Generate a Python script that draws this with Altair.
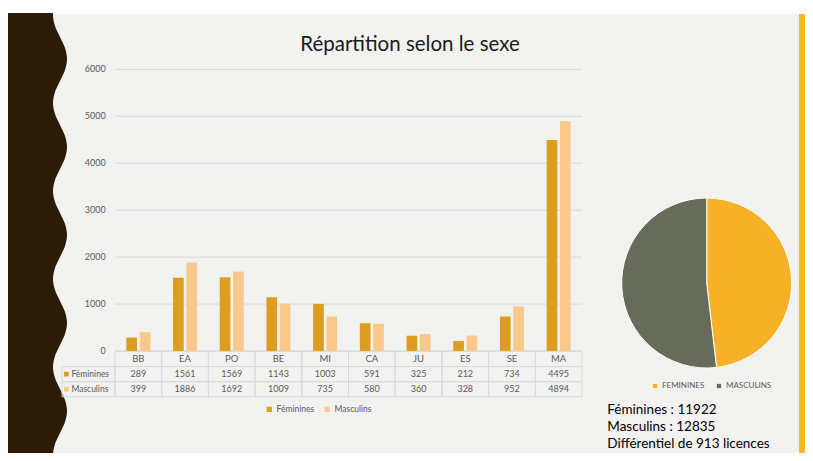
import altair as alt
import pandas as pd

# ---------------- data ----------------
cats = ["BB", "EA", "PO", "BE", "MI", "CA", "JU", "ES", "SE", "MA"]
fem = [289, 1561, 1569, 1143, 1003, 591, 325, 212, 734, 4495]
masc = [399, 1886, 1692, 1009, 735, 580, 360, 328, 952, 4894]
series = ["Féminines", "Masculins"]
y_ticks = [0, 1000, 2000, 3000, 4000, 5000, 6000]
pie_labels = ["FEMININES", "MASCULINS"]
title_text = "Répartition selon le sexe"
header_key = "Catégorie"

# decorative wavy border of the slide (page pixels)
wave_y = [13, 15, 26, 37, 48, 59, 70, 81, 92, 103, 114, 125, 136, 147, 158, 169, 180, 191,
          202, 213, 224, 235, 246, 257, 268, 279, 290, 301, 312, 323, 334, 345, 356, 367,
          378, 389, 400, 411, 422, 433, 444, 455, 461]
wave_x = [53, 53, 55, 60, 65, 67, 65, 60, 55, 53, 55, 60, 65, 67, 65, 60, 55, 53,
          55, 60, 65, 67, 65, 60, 55, 53, 55, 60, 65, 67, 65, 60, 55, 53,
          55, 60, 65, 67, 65, 60, 55, 53, 54]

# ---------------- styling ----------------
O = 8  # page margin


def px(v):
    return v - O


FONT = "Lato"
bar_colors = ["#dc9d21", "#f9c98b"]
pie_colors = ["#f7b228", "#676b5a"]
grey = "#595959"
grid_c = "#d9d9d9"
slide_bg = "#f2f2f0"
brown = "#2b1c05"
orange = "#f8b526"

W, H = 797, 445

# ---------------- tables ----------------
bars_df = pd.DataFrame({
    "cat": cats * 2,
    "sexe": [series[0]] * len(cats) + [series[1]] * len(cats),
    "val": fem + masc,
})
tot_f, tot_m = sum(fem), sum(masc)
pie_df = pd.DataFrame({"lab": pie_labels, "val": [tot_f, tot_m], "ord": [0, 1]})
summary = [f"Féminines : {tot_f}", f"Masculins : {tot_m}",
           f"Différentiel de {tot_m - tot_f} licences"]
sum_df = pd.DataFrame({"i": [0, 1, 2], "txt": summary})

rows = [header_key] + series
cells = []
for i, c in enumerate(cats):
    cells.append({"cat": c, "row": header_key, "txt": c})
    cells.append({"cat": c, "row": series[0], "txt": str(fem[i])})
    cells.append({"cat": c, "row": series[1], "txt": str(masc[i])})
cells_df = pd.DataFrame(cells)
rowlab_df = pd.DataFrame({"row": series})
ticks_df = pd.DataFrame({"v": y_ticks})
wave_df = pd.DataFrame({"wy": [px(v) for v in wave_y], "wx": [px(v) for v in wave_x]})
one = pd.DataFrame({"a": [0]})
title_df = pd.DataFrame({"t": [title_text]})

# ---------------- scales ----------------
yscale = alt.Scale(domain=[0, 6000], range=[px(351), px(69.3)], nice=False, zero=True)
xbars = alt.Scale(domain=cats, range=[px(115), px(582)], paddingInner=0.486, paddingOuter=0.243)
xtab = alt.Scale(domain=cats, range=[px(115), px(582)], paddingInner=0, paddingOuter=0)
rowscale = alt.Scale(domain=rows, range=[px(351.4), px(396.8)], paddingInner=0, paddingOuter=0)
rowscale2 = alt.Scale(domain=rows, range=[px(351.4), px(396.8)], paddingInner=0, paddingOuter=0)
ident_x = alt.Scale(domain=[0, W], range=[0, W], nice=False, zero=False)
ident_y = alt.Scale(domain=[0, H + 16], range=[0, H + 16], nice=False, zero=False)
bar_color_scale = alt.Scale(domain=series, range=bar_colors)

# ---------------- layers ----------------
bg = alt.Chart(one).mark_rect(color=slide_bg).encode(
    x=alt.value(px(10)), x2=alt.value(W), y=alt.value(px(14)), y2=alt.value(H))

wave = alt.Chart(wave_df).mark_area(orient="horizontal", interpolate="monotone", color=brown,
                                    clip=True).encode(
    y=alt.Y("wy:Q", scale=ident_y, axis=None),
    x=alt.X("wx:Q", scale=ident_x, axis=None),
    x2=alt.value(px(10)),
)

orange_bar = alt.Chart(one).mark_rect(color=orange).encode(
    x=alt.value(W - 6), x2=alt.value(W), y=alt.value(px(14)), y2=alt.value(H))

grid = alt.Chart(ticks_df).mark_rule(color=grid_c, strokeWidth=1).encode(
    y=alt.Y("v:Q", scale=yscale, axis=None),
    x=alt.value(px(115)), x2=alt.value(px(582)),
)

ylabels = alt.Chart(ticks_df).mark_text(align="right", baseline="middle", font=FONT,
                                        fontSize=9, color=grey).encode(
    y=alt.Y("v:Q", scale=yscale, axis=None),
    x=alt.value(px(105.7)),
    text=alt.Text("v:Q"),
)

bars = alt.Chart(bars_df).mark_bar().encode(
    x=alt.X("cat:N", scale=xbars, axis=None, sort=cats),
    xOffset=alt.XOffset("sexe:N", scale=alt.Scale(domain=series, paddingInner=0.2)),
    y=alt.Y("val:Q", scale=yscale, axis=None),
    color=alt.Color("sexe:N", scale=bar_color_scale, legend=alt.Legend(
        orient="none", legendX=px(265), legendY=px(405), direction="horizontal", title=None,
        symbolType="square", symbolSize=28, symbolStrokeWidth=0, labelFont=FONT,
        labelFontSize=8.5, labelColor=grey, columnPadding=8, labelOffset=3, padding=0)),
)

table_cells = alt.Chart(cells_df).mark_rect(fill=None, stroke=grid_c, strokeWidth=1).encode(
    x=alt.X("cat:N", scale=xtab, axis=None, sort=cats),
    y=alt.Y("row:N", scale=rowscale, axis=None, sort=rows),
)

table_head = alt.Chart(cells_df).transform_filter(
    alt.datum.row == header_key
).mark_text(font=FONT, fontSize=9.5, color=grey, baseline="middle").encode(
    x=alt.X("cat:N", scale=xtab, axis=None, sort=cats),
    y=alt.Y("row:N", scale=rowscale, axis=None, sort=rows),
    text="txt:N",
)

table_nums = alt.Chart(cells_df).transform_filter(
    alt.datum.row != header_key
).mark_text(font=FONT, fontSize=9, color=grey, baseline="middle").encode(
    x=alt.X("cat:N", scale=xtab, axis=None, sort=cats),
    y=alt.Y("row:N", scale=rowscale, axis=None, sort=rows),
    text="txt:N",
)

label_cells = alt.Chart(rowlab_df).mark_rect(fill=None, stroke=grid_c, strokeWidth=1).encode(
    x=alt.value(px(62)), x2=alt.value(px(115)),
    y=alt.Y("row:N", scale=rowscale2, axis=None, sort=rows),
)

label_sq = alt.Chart(rowlab_df).mark_square(size=22, opacity=1).encode(
    x=alt.value(px(66.4)),
    y=alt.Y("row:N", scale=rowscale2, axis=None, sort=rows),
    color=alt.Color("row:N", scale=bar_color_scale, legend=None),
)

label_txt = alt.Chart(rowlab_df).mark_text(align="left", baseline="middle", font=FONT,
                                          fontSize=8.5, color=grey).encode(
    x=alt.value(px(71.4)),
    y=alt.Y("row:N", scale=rowscale2, axis=None, sort=rows),
    text="row:N",
)

title = alt.Chart(title_df).mark_text(font=FONT, fontSize=20.5, color="#1a1a1a",
                                      align="center", baseline="alphabetic").encode(
    x=alt.value(px(410)), y=alt.value(px(51)), text="t:N")

pie = alt.Chart(pie_df).mark_arc(radius=85, stroke="#ffffff", strokeWidth=1).encode(
    theta=alt.Theta("val:Q", stack=True),
    order=alt.Order("ord:Q"),
    color=alt.Color("lab:N", scale=alt.Scale(domain=pie_labels, range=pie_colors),
                    legend=alt.Legend(orient="none", legendX=px(651), legendY=px(382),
                                      direction="horizontal", title=None, symbolType="square",
                                      symbolSize=18, symbolStrokeWidth=0, labelFont=FONT,
                                      labelFontSize=8, labelColor=grey, columnPadding=10,
                                      labelOffset=3, padding=0)),
    x=alt.value(px(706.7)), y=alt.value(px(283)),
)

summary_txt = alt.Chart(sum_df).mark_text(align="left", baseline="alphabetic", font=FONT,
                                          fontSize=13.5, color="#000000").encode(
    x=alt.value(px(607.3)),
    y=alt.Y("i:O", scale=alt.Scale(domain=[0, 1, 2], range=[px(414), px(448)], padding=0),
            axis=None),
    text="txt:N",
)

chart = alt.layer(
    bg, wave, orange_bar, grid, ylabels, bars, table_cells, table_head, table_nums,
    label_cells, label_sq, label_txt, title, pie, summary_txt,
).resolve_scale(
    x="independent", y="independent", color="independent"
).properties(
    width=W, height=H, autosize="none", padding=0, background="#ffffff"
).configure_view(stroke=None)

chart.save("out.html", embed_options={"renderer": "svg", "actions": False})
